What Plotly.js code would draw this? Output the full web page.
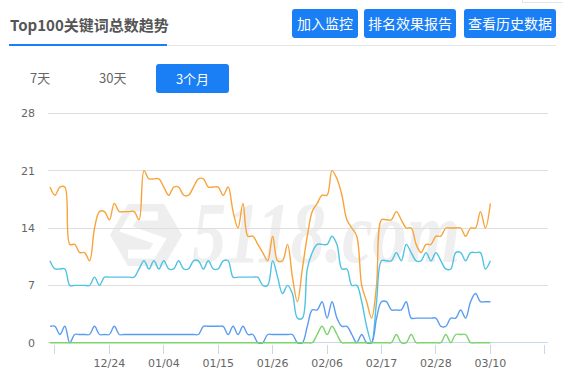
<!DOCTYPE html>
<html>
<head>
<meta charset="utf-8">
<script src="https://cdn.plot.ly/plotly-3.0.1.min.js"></script>
<style>
  html,body{margin:0;padding:0;background:#fff;}
  body{width:563px;height:372px;overflow:hidden;position:relative;font-family:"Noto Sans CJK SC","Noto Sans",sans-serif;}
  #wm{position:absolute;left:0;top:0;width:563px;height:372px;z-index:0;}
  #chart{position:absolute;left:0;top:0;width:563px;height:372px;z-index:1;}
  .hdr{position:absolute;z-index:2;}
  .title{left:10px;top:14px;font-size:15px;font-weight:bold;color:#555;line-height:22px;white-space:nowrap;}
  .uline{left:9px;top:44px;width:158px;height:2px;background:#1a7ef5;}
  .gline{left:167px;top:45px;width:389px;height:1px;background:#e6e6e6;}
  .btn{top:9px;height:29px;background:#1a7ef5;color:#fff;border-radius:3px;font-size:14px;line-height:29px;text-align:center;white-space:nowrap;}
  .tab{top:68px;font-size:13px;color:#666;line-height:20px;white-space:nowrap;}
  .tabOn{left:156px;top:64px;width:73px;height:29px;background:#1a7ef5;color:#fff;border-radius:3px;font-size:13px;line-height:29px;text-align:center;}
  .corner{left:522px;top:-10px;width:50px;height:11px;border:1px solid #e6e6e6;}
</style>
</head>
<body>
<svg id="wm" width="563" height="372">
  <polygon points="110,235 128,204 164,204 182,235 164,266 128,266" fill="#eeeeee"/>
  <path d="M158,216 L134,216 L126,229 L160,241 L152,254 L128,254" fill="none" stroke="#ffffff" stroke-width="9" stroke-linejoin="miter"/>
  <text x="192" y="262" font-family="Liberation Serif" font-style="italic" font-weight="bold" font-size="86" fill="#efefef" textLength="268" lengthAdjust="spacingAndGlyphs">5118.com</text>
</svg>
<div id="chart"></div>
<div class="hdr title">Top100关键词总数趋势</div>
<div class="hdr uline"></div>
<div class="hdr gline"></div>
<div class="hdr corner"></div>
<div class="hdr btn" style="left:292px;width:66px;">加入监控</div>
<div class="hdr btn" style="left:364px;width:92px;">排名效果报告</div>
<div class="hdr btn" style="left:464px;width:92px;">查看历史数据</div>
<div class="hdr tab" style="left:30px;">7天</div>
<div class="hdr tab" style="left:99px;">30天</div>
<div class="hdr tabOn">3个月</div>
<script>
const dates = [
'2023-12-12','2023-12-13','2023-12-14','2023-12-15','2023-12-16','2023-12-17','2023-12-18','2023-12-19','2023-12-20','2023-12-21',
'2023-12-22','2023-12-23','2023-12-24','2023-12-25','2023-12-26','2023-12-27','2023-12-28','2023-12-29','2023-12-30','2023-12-31',
'2024-01-01','2024-01-02','2024-01-03','2024-01-04','2024-01-05','2024-01-06','2024-01-07','2024-01-08','2024-01-09','2024-01-10',
'2024-01-11','2024-01-12','2024-01-13','2024-01-14','2024-01-15','2024-01-16','2024-01-17','2024-01-18','2024-01-19','2024-01-20',
'2024-01-21','2024-01-22','2024-01-23','2024-01-24','2024-01-25','2024-01-26','2024-01-27','2024-01-28','2024-01-29','2024-01-30',
'2024-01-31','2024-02-01','2024-02-02','2024-02-03','2024-02-04','2024-02-05','2024-02-06','2024-02-07','2024-02-08','2024-02-09',
'2024-02-10','2024-02-11','2024-02-12','2024-02-13','2024-02-14','2024-02-15','2024-02-16','2024-02-17','2024-02-18','2024-02-19',
'2024-02-20','2024-02-21','2024-02-22','2024-02-23','2024-02-24','2024-02-25','2024-02-26','2024-02-27','2024-02-28','2024-02-29',
'2024-03-01','2024-03-02','2024-03-03','2024-03-04','2024-03-05','2024-03-06','2024-03-07','2024-03-08','2024-03-09','2024-03-10'];

const orangeSeries = [
19,18,19,19,12,12,11,11,10,14,
16,16,15,17,16,16,16,16,15,21,
20,20,20,19,18,19,19,18,18,19,
20,20,19,19,19,18,19,16,14,17,
13,13,12,11,10,13,10,10,12,8,
5,9,13,16,17,18,18,21,20,18,
15,14,13,7,5,3,7,15,15,15,
16,15,14,14,12,11,12,12,13,13,
14,14,14,14,13,14,14,16,14,17];

const cyanSeries = [
10,9,9,9,7,7,7,7,7,8,
7,8,8,8,8,8,8,8,9,10,
9,10,9,10,9,9,10,9,9,10,
10,9,10,9,9,10,10,8,8,8,
8,8,8,7,7,10,8,6,7,6,
3,3,9,11,12,12,12,13,12,9,
9,7,7,5,2,0,5,10,10,10,
11,10,12,11,10,10,11,10,11,10,
9,9,11,11,10,11,11,11,9,10];

const blueSeries = [
2,2,1,2,0,1,1,1,1,2,
1,1,1,2,1,1,1,1,1,1,
1,1,1,1,1,1,1,1,1,1,
1,2,2,2,2,2,1,2,1,2,
1,1,0,0,1,1,1,1,1,1,
0,0,2,4,4,5,3,5,3,2,
2,1,0,1,0,0,3,5,5,4,
4,4,5,3,3,3,3,3,3,2,
2,3,3,4,3,5,6,5,5,5];

const greenSeries = [
0,0,0,0,0,0,0,0,0,0,
0,0,0,0,0,0,0,0,0,0,
0,0,0,0,0,0,0,0,0,0,
0,0,0,0,0,0,0,0,0,0,
0,0,0,0,0,0,0,0,0,0,
0,0,0,0,1,2,1,2,1,0,
0,0,0,0,0,0,0,0,0,0,
1,0,0,1,0,0,0,0,0,0,
1,0,1,1,1,0,0,0,0,0];

const tickDates = ['2023-12-13','2023-12-24','2024-01-04','2024-01-15','2024-01-26','2024-02-06','2024-02-17','2024-02-28','2024-03-10','2024-03-21'];
const tickLabels = ['','12/24','01/04','01/15','01/26','02/06','02/17','02/28','03/10',''];
const yTicks = [0,7,14,21,28];

const series = [
  {y: orangeSeries, color: '#f7a43c'},
  {y: cyanSeries, color: '#4ec3e4'},
  {y: blueSeries, color: '#5a9cf0'},
  {y: greenSeries, color: '#7dd36c'}
];

const traces = series.map(s => ({
  x: dates, y: s.y, type: 'scatter', mode: 'lines',
  line: {color: s.color, width: 1.4, shape: 'spline', smoothing: 1},
  hoverinfo: 'skip'
}));

const layout = {
  width: 563, height: 372,
  margin: {l: 48, r: 15, t: 112, b: 28, pad: 0},
  paper_bgcolor: 'rgba(0,0,0,0)', plot_bgcolor: 'rgba(0,0,0,0)',
  showlegend: false,
  xaxis: {
    type: 'date', range: ['2023-12-11 14:18', '2024-03-21 15:36'],
    tickmode: 'array', tickvals: tickDates, ticktext: tickLabels,
    ticks: 'outside', ticklen: 9, tickwidth: 1, tickcolor: '#ccd6eb',
    showgrid: false, showline: false, zeroline: false,
    tickfont: {family: 'DejaVu Sans', size: 11, color: '#666'},
    fixedrange: true
  },
  yaxis: {
    range: [-0.159, 28.159], tickmode: 'array', tickvals: yTicks,
    showgrid: true, gridcolor: '#dedede', gridwidth: 1,
    zeroline: true, zerolinecolor: '#ccd6eb', zerolinewidth: 1,
    showline: false, ticks: '', ticklabelstandoff: 12,
    tickfont: {family: 'DejaVu Sans', size: 11, color: '#666'},
    fixedrange: true
  }
};

Plotly.newPlot('chart', traces, layout, {staticPlot: true, displayModeBar: false});
</script>
</body>
</html>
